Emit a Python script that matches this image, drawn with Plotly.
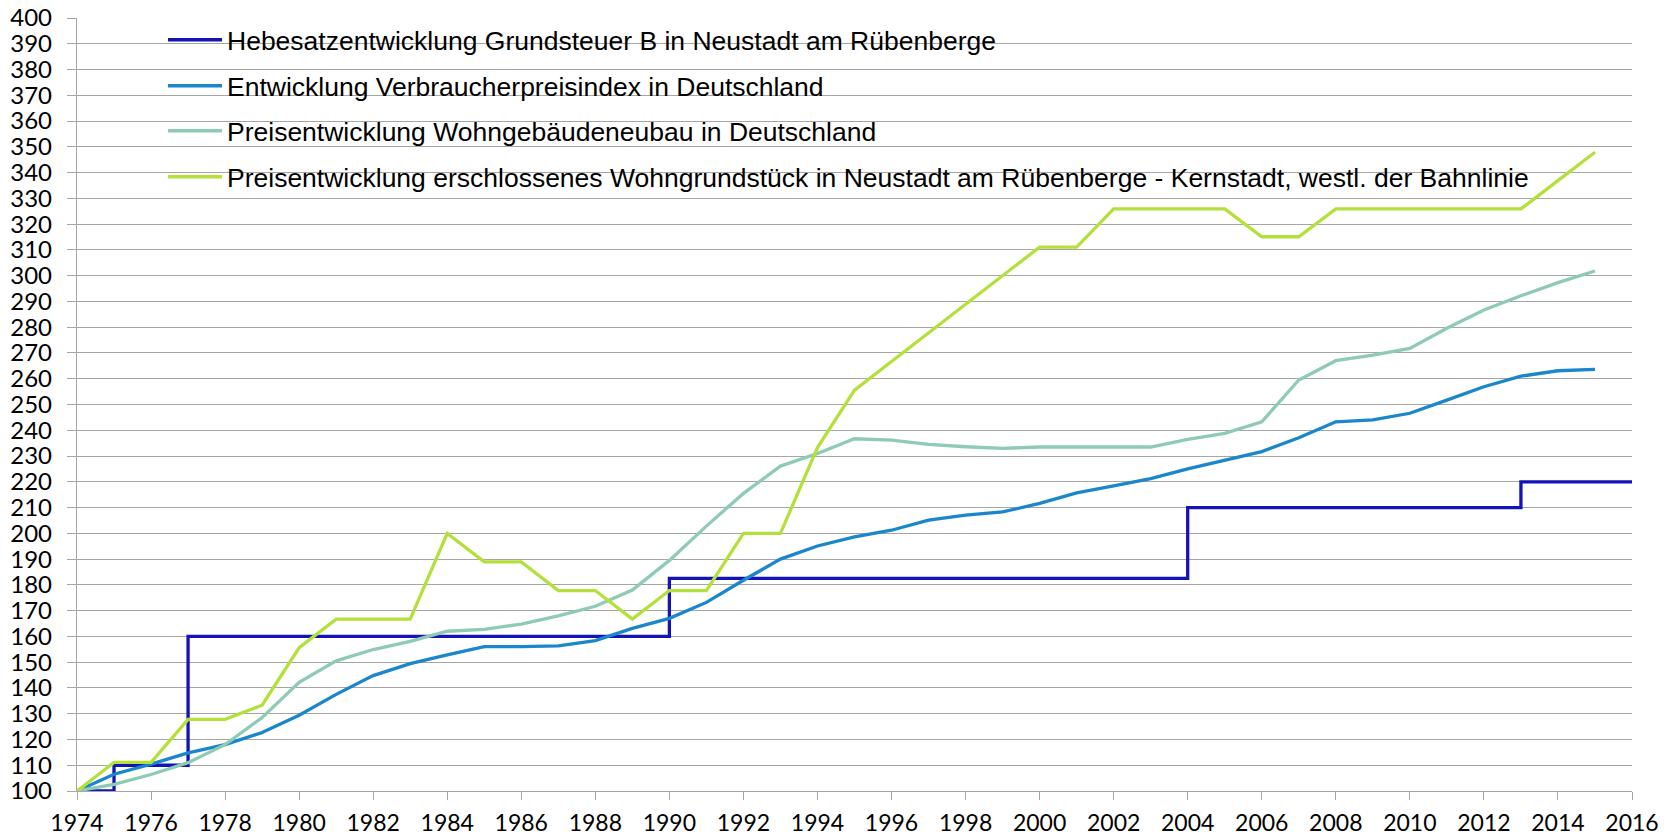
import plotly.graph_objects as go

years = list(range(1974, 2016))

hebesatz_years = [1974, 1975, 1977, 1990, 2004, 2013, 2016]
hebesatz = [100, 110, 160, 182.5, 210, 220, 220]

vpi = [100, 106.5, 110.4, 114.8, 118, 122.7, 129.4, 137.5, 144.8, 149.4,
       152.8, 156, 156, 156.3, 158.4, 163.1, 167, 173.2, 181.8, 190,
       195.1, 198.6, 201.2, 205.1, 207.1, 208.3, 211.6, 215.7, 218.4, 221.2,
       225, 228.4, 231.7, 237.1, 243.3, 244, 246.6, 251.7, 256.9, 261,
       263.1, 263.6]

wohnbau = [100, 102.6, 106.4, 111, 118, 128.5, 142.2, 150.5, 154.9, 158.1,
           162, 162.7, 164.8, 168, 171.7, 178, 189.5, 202.8, 215.5, 226.1,
           231, 236.7, 236.2, 234.5, 233.6, 233, 233.5, 233.5, 233.5, 233.5,
           236.5, 238.8, 243.3, 259.5, 267, 269.2, 271.8, 279.6, 286.7, 292.2,
           297.3, 301.8]

grundstueck = [100, 111.1, 111.1, 127.8, 127.8, 133.3, 155.6, 166.7, 166.7, 166.7,
               200, 188.9, 188.9, 177.8, 177.8, 166.7, 177.8, 177.8, 200, 200,
               233.3, 255.6, 266.7, 277.8, 288.9, 300, 311.1, 311.1, 325.9, 325.9,
               325.9, 325.9, 315.1, 315.1, 325.9, 325.9, 325.9, 325.9, 325.9, 325.9,
               336.9, 347.9]

names = [
    "Hebesatzentwicklung Grundsteuer B in Neustadt am Rübenberge",
    "Entwicklung Verbraucherpreisindex in Deutschland",
    "Preisentwicklung Wohngebäudeneubau in Deutschland",
    "Preisentwicklung erschlossenes Wohngrundstück in Neustadt am Rübenberge - Kernstadt, westl. der Bahnlinie",
]
colors = ["#1414b6", "#1a86cc", "#8ecbb5", "#b5e03c"]

W, H = 1675, 836
ML, MR, MT, MB = 77, 43, 18, 45
PW, PH = W - ML - MR, H - MT - MB

fig = go.Figure()
fig.add_trace(go.Scatter(x=hebesatz_years, y=hebesatz, mode="lines", name=names[0],
                         line=dict(color=colors[0], width=3.3, shape="hv"), legend="legend"))
fig.add_trace(go.Scatter(x=years, y=vpi, mode="lines", name=names[1],
                         line=dict(color=colors[1], width=3.3), legend="legend2"))
fig.add_trace(go.Scatter(x=years, y=wohnbau, mode="lines", name=names[2],
                         line=dict(color=colors[2], width=3.3), legend="legend3"))
fig.add_trace(go.Scatter(x=years, y=grundstueck, mode="lines", name=names[3],
                         line=dict(color=colors[3], width=3.3), legend="legend4"))

legend_font = dict(family="Liberation Sans, Arial", size=26.5, color="#000000")
row_px = [40, 86, 131, 177]
leg_x = (163 - ML) / PW

def leg(ypx):
    return dict(x=leg_x, y=(H - MB - ypx) / PH, xanchor="left", yanchor="middle",
                bgcolor="rgba(0,0,0,0)", borderwidth=0, font=legend_font,
                itemwidth=54, tracegroupgap=0)

fig.update_layout(
    width=W, height=H, autosize=False,
    margin=dict(l=ML, r=MR, t=MT, b=MB, pad=0, autoexpand=False),
    paper_bgcolor="white", plot_bgcolor="white",
    showlegend=True,
    legend=leg(row_px[0]), legend2=leg(row_px[1]),
    legend3=leg(row_px[2]), legend4=leg(row_px[3]),
    xaxis=dict(range=[1974, 2016], tickmode="linear", tick0=1974, dtick=2,
               showgrid=False, zeroline=False, showline=True,
               linecolor="#a6a6a6", linewidth=1.3,
               ticks="outside", ticklen=8, tickcolor="#a6a6a6", tickwidth=1.3,
               ticklabelstandoff=3,
               tickfont=dict(family="Lato", size=23, color="#000000")),
    yaxis=dict(range=[100, 400], tickmode="linear", tick0=100, dtick=10,
               showgrid=True, gridcolor="#a6a6a6", gridwidth=1.3,
               zeroline=False, showline=True, linecolor="#a6a6a6", linewidth=1.3,
               ticks="outside", ticklen=9, tickcolor="#a6a6a6", tickwidth=1.3,
               ticklabelstandoff=10,
               tickfont=dict(family="Lato", size=24, color="#000000")),
)

fig.write_html("out.html", config={"displayModeBar": False},
               post_script="document.body.style.margin='0';document.body.style.overflow='hidden';")
